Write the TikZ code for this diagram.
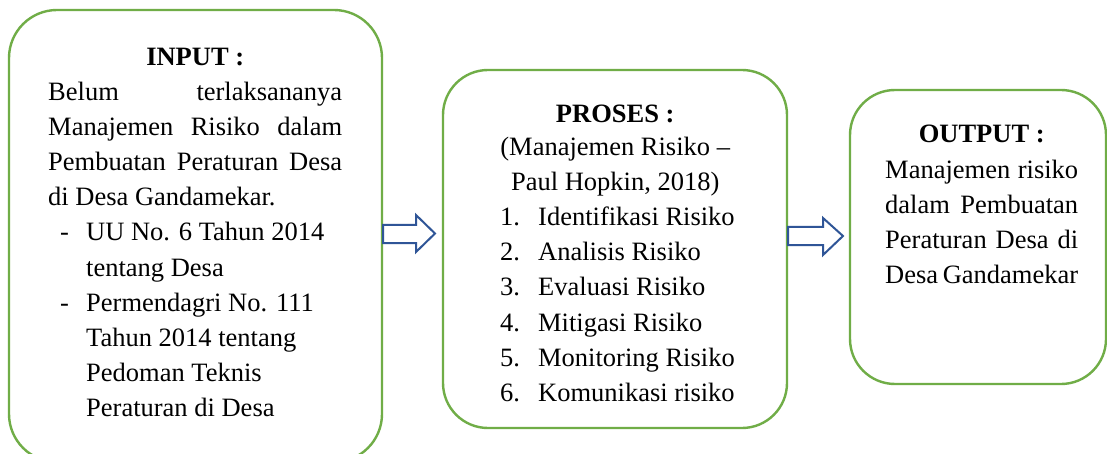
\documentclass[tikz,border=0pt]{standalone}
\usepackage{fontspec}
\setmainfont{Liberation Serif}
\definecolor{boxgreen}{RGB}{112,173,71}
\definecolor{arrowblue}{RGB}{47,85,151}
\newcommand{\txtblock}[2]{\vtop{\hsize=#1\relax\parindent=0pt\parskip=0pt\fontsize{26.5}{35.2}\selectfont #2}}
\begin{document}
\begin{tikzpicture}[x=1pt,y=-1pt,
  stagebox/.style={draw=boxgreen, line width=2.4pt, fill=white, rounded corners=48pt, inner sep=0pt},
  blockarrow/.style={draw=arrowblue, line width=2pt, fill=white, line join=miter},
  txt/.style={inner sep=0pt, anchor=base west}]
\clip (0,0) rectangle (1107,454);
\fill[white] (0,0) rectangle (1107,454);
% boxes
\node[stagebox, minimum width=373pt, minimum height=452pt] (input) at (195.5,236) {};
\node[stagebox, minimum width=344pt, minimum height=358pt, rounded corners=45pt] (proses) at (615,249) {};
\node[stagebox, minimum width=256pt, minimum height=294pt, rounded corners=45pt] (output) at (978,237) {};
% texts
\node[txt] (inputtext) at (48,66) {\txtblock{294pt}{%
  {\centering\bfseries INPUT :\par}\vspace{-1pt}
  \makebox[\hsize][s]{Belum terlaksananya}\par
  \makebox[\hsize][s]{Manajemen Risiko dalam}\par
  \makebox[\hsize][s]{Pembuatan Peraturan Desa}\par
  di Desa Gandamekar.\par
  \makebox[38pt][l]{\hspace*{12pt}-}UU No. 6 Tahun 2014\par
  \hspace*{38pt}tentang Desa\par
  \makebox[38pt][l]{\hspace*{12pt}-}Permendagri No. 111\par
  \hspace*{38pt}Tahun 2014 tentang\par
  \hspace*{38pt}Pedoman Teknis\par
  \hspace*{38pt}Peraturan di Desa\par}};
\node[txt] (prosestext) at (500,123) {\txtblock{230pt}{%
  {\centering\bfseries PROSES :\par}\vspace{-3pt}
  {\centering (Manajemen Risiko --\par
  Paul Hopkin, 2018)\par}
  \makebox[38pt][l]{1.}\rlap{Identifikasi Risiko}\par
  \makebox[38pt][l]{2.}Analisis Risiko\par
  \makebox[38pt][l]{3.}Evaluasi Risiko\par
  \makebox[38pt][l]{4.}Mitigasi Risiko\par
  \makebox[38pt][l]{5.}\rlap{Monitoring Risiko}\par
  \makebox[38pt][l]{6.}\rlap{Komunikasi risiko}\par}};
\node[txt] (outputtext) at (885,143) {\txtblock{193pt}{%
  {\centering\bfseries OUTPUT :\par}
  \makebox[\hsize][s]{Manajemen risiko}\par
  \makebox[\hsize][s]{dalam Pembuatan}\par
  \makebox[\hsize][s]{Peraturan Desa di}\par
  \makebox[\hsize][s]{Desa Gandamekar}\par}};
% block arrows between boxes
\draw[blockarrow] (input.east |- 0,225) -- (416,225) -- (416,215) -- (435,233.5)
  -- (416,252) -- (416,243) -- (input.east |- 0,243) -- cycle;
\draw[blockarrow] (proses.east |- 0,227) -- (823,227) -- (823,218) -- (843,236)
  -- (823,255) -- (823,245) -- (proses.east |- 0,245) -- cycle;
\end{tikzpicture}
\end{document}
